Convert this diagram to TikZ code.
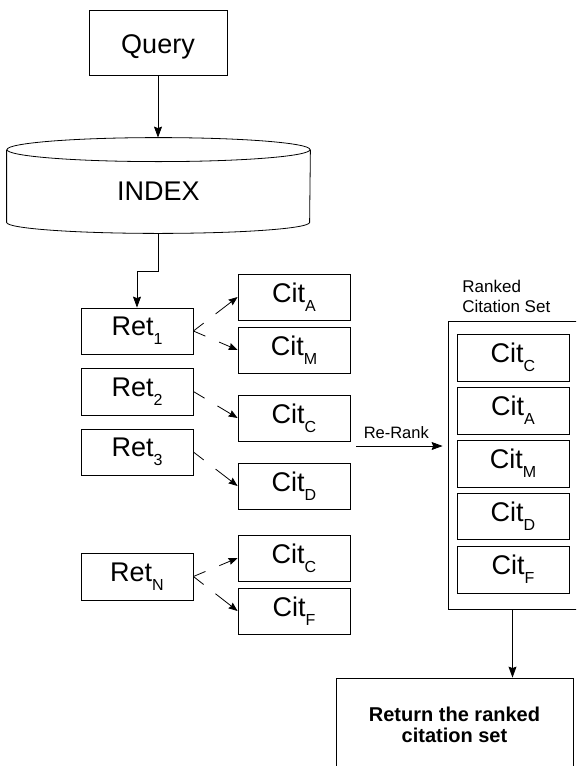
\documentclass[tikz,border=0pt]{standalone}
\usepackage{fontspec}
\setmainfont{Liberation Sans}
\usepackage{tikz}
\usetikzlibrary{arrows.meta, positioning, calc}
\tikzset{>={Stealth[length=11pt,width=8pt,inset=1.5pt]}}
\newcommand{\lowsub}[1]{\raisebox{-9pt}{\fontsize{16}{16}\selectfont #1}}

\begin{document}
\begin{tikzpicture}[x=1pt, y=-1pt, line width=0.8pt,
		bigtxt/.style={font=\fontsize{27}{30}\selectfont},
		itembox/.style={draw, bigtxt, inner sep=0pt, minimum width=112, minimum height=46},
		citlink/.style={-{Stealth[length=9pt,width=7pt,inset=1pt]}, dash pattern=on 13pt off 15pt on 300pt}]
	\useasboundingbox (0,0) rectangle (576,766);
	\clip (0,0) rectangle (576,766);

	\node[draw, bigtxt, minimum width=138, minimum height=65, text height=24pt, text depth=2.4pt] (query) at (158,42.5) {Query};

	% index drum
	\node[minimum width=303, minimum height=95, inner sep=0pt] (index) at (158.5,185.5) {};
	\draw ([yshift=-12pt]index.north) ellipse [x radius=151.5, y radius=12];
	\draw ([yshift=-12pt]index.north west) -- ([yshift=11pt]index.south west) arc[start angle=180, end angle=0, x radius=151.5, y radius=11] -- ([yshift=-12pt]index.north east);
	\node[bigtxt] (indextxt) at (158.5,191.7) {INDEX};

	% retrieved documents
	\node[itembox] (ret1) at (137,331) {Ret\lowsub{1}};
	\node[itembox, minimum height=47] (ret2) at (137,391.5) {Ret\lowsub{2}};
	\node[itembox] (ret3) at (137,452) {Ret\lowsub{3}};
	\node[itembox, minimum height=47] (retn) at (137,576.5) {Ret\lowsub{N}};

	% their citations
	\node[itembox] (citA) at (294,297) {Cit\lowsub{A}};
	\node[itembox] (citM) at (294,350) {Cit\lowsub{M}};
	\node[itembox] (citC) at (294,418) {Cit\lowsub{C}};
	\node[itembox] (citD) at (294,486) {Cit\lowsub{D}};
	\node[itembox] (citCn) at (294,558) {Cit\lowsub{C}};
	\node[itembox] (citF) at (294,611) {Cit\lowsub{F}};

	% ranked set
	\node[draw, minimum width=129, minimum height=288, inner sep=0pt] (ranked) at (512.5,465) {};
	\node[font=\fontsize{17}{20}\selectfont, align=left, anchor=west, inner sep=0pt] (rankedlbl) at (462,296.8) {Ranked\\Citation Set};
	\node[itembox, minimum height=47] (rC) at (513,357.5) {Cit\lowsub{C}};
	\node[itembox, minimum height=47] (rA) at (513,410.5) {Cit\lowsub{A}};
	\node[itembox, minimum height=47] (rM) at (513,463.5) {Cit\lowsub{M}};
	\node[itembox] (rD) at (513,516) {Cit\lowsub{D}};
	\node[itembox, minimum height=47] (rF) at (513,569.5) {Cit\lowsub{F}};

	\node[draw, minimum width=237, minimum height=93, align=center, font=\bfseries\fontsize{20}{21}\selectfont] (output) at (454.5,724.5) {Return the ranked\\citation set};

	\draw[->] (query.south) -- (query.south |- index.north);
	\draw[->] (index.south) -- ++(0,38) -| (ret1.north);

	\draw[citlink] (ret1.east) -- (citA.west);
	\draw[citlink] (ret1.east) -- (citM.west);
	\draw[citlink] (ret2.east) -- (citC.west);
	\draw[citlink] (ret3.east) -- (citD.west);
	\draw[citlink] (retn.east) -- (citCn.west);
	\draw[citlink] (retn.east) -- (citF.west);

	\coordinate (rrfrom) at (356,446);
	\draw[->, shorten >=5pt] (rrfrom) -- (rrfrom -| ranked.west) node[pos=0.44, above=4pt, font=\fontsize{16.5}{18}\selectfont] {Re-Rank};

	\draw[->] (ranked.south) -- (ranked.south |- output.north);
\end{tikzpicture}
\end{document}
